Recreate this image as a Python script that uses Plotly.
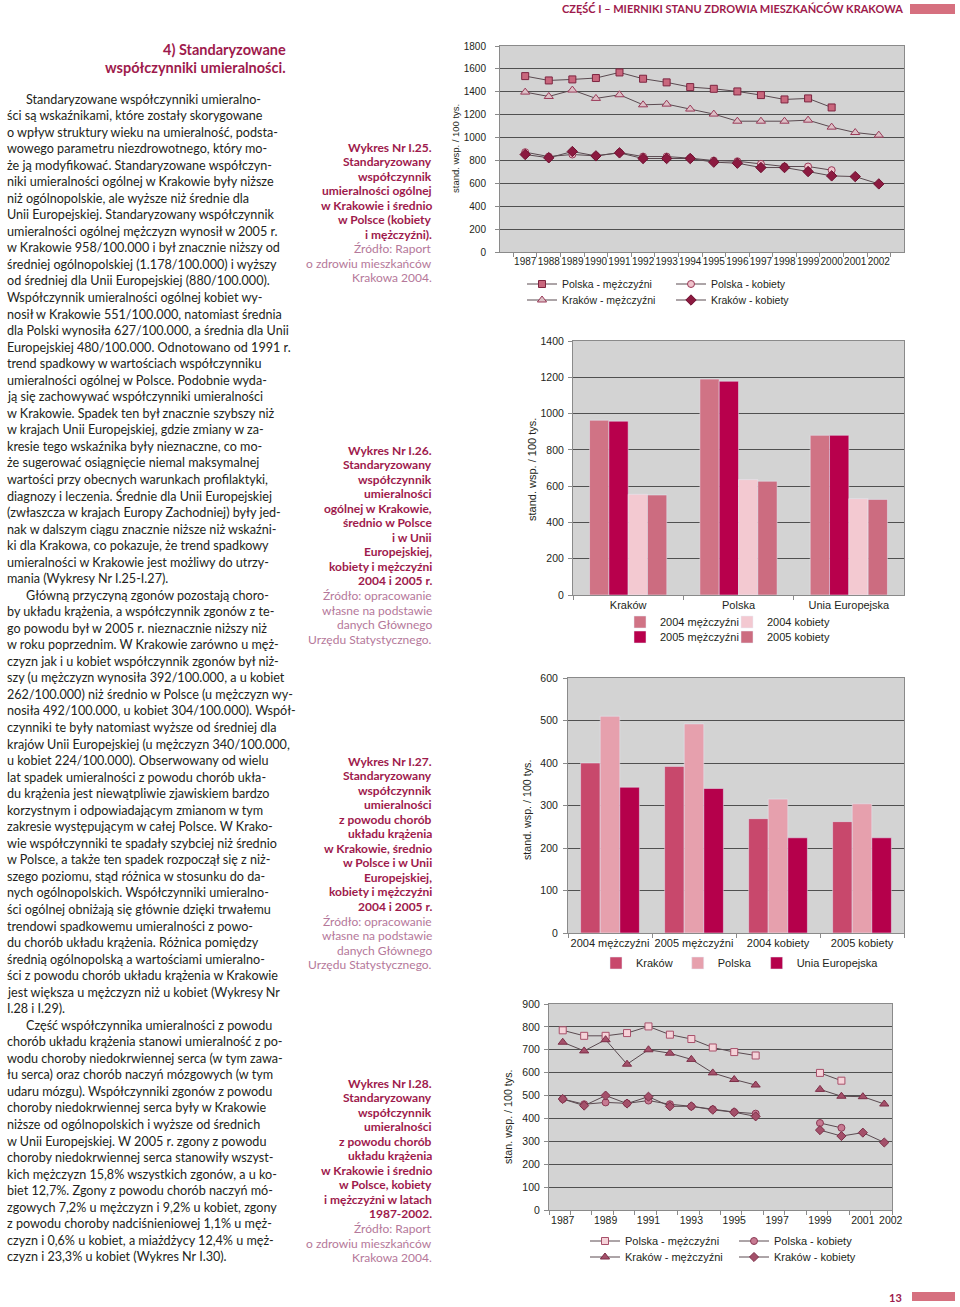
import plotly.graph_objects as go

W, H = 960, 1307
def X(px): return px / W
def Y(py): return 1 - py / H

# ---------------- DATA ----------------
years1 = [str(y) for y in range(1987, 2003)]
pl_m_1 = [1537, 1499, 1508, 1520, 1569, 1514, 1482, 1441, 1426, 1403, 1371, 1333, 1342, 1263, None, None]
kr_m_1 = [1397, 1359, 1415, 1342, 1374, 1286, 1292, 1249, 1205, 1143, 1143, 1143, 1152, 1091, 1044, 1021]
pl_k_1 = [872, 834, 852, 840, 869, 834, 834, 820, 799, 793, 770, 747, 747, 715, None, None]
kr_k_1 = [852, 823, 878, 840, 866, 817, 817, 817, 785, 776, 738, 738, 703, 665, 659, 595]

regions2 = ["Kraków", "Polska", "Unia Europejska"]
m2004 = [963, 1190, 880]
m2005 = [958, 1178, 880]
k2004 = [555, 636, 531]
k2005 = [551, 627, 527]

groups3 = ["2004 mężczyźni", "2005 mężczyźni", "2004 kobiety", "2005 kobiety"]
krakow3 = [400, 392, 269, 262]
polska3 = [510, 492, 315, 304]
ue3 = [343, 340, 224, 224]

years4 = list(range(1987, 2003))
ticks4 = [1987, 1989, 1991, 1993, 1995, 1997, 1999, 2001, 2002]
ticklabels4 = [str(t) for t in ticks4]
pl_m_4 = [785, 761, 761, 773, 802, 766, 747, 710, 690, 675, None, None, 599, 565, None, None]
kr_m_4 = [733, 695, 744, 637, 700, 685, 658, 599, 570, 546, None, None, 527, 497, 495, 463]
pl_k_4 = [485, 462, 470, 466, 478, 462, 453, 440, 428, 421, None, None, 380, 359, None, None]
kr_k_4 = [485, 456, 500, 465, 495, 453, 453, 438, 427, 409, None, None, 349, 323, 338, 295]

header = "CZĘŚĆ I – MIERNIKI STANU ZDROWIA MIESZKAŃCÓW KRAKOWA"
title_lines = ["4) Standaryzowane", "współczynniki umieralności."]

body_lines = [
    "Standaryzowane współczynniki umieralno-",
    "ści są wskaźnikami, które zostały skorygowane",
    "o wpływ struktury wieku na umieralność, podsta-",
    "wowego parametru niezdrowotnego, który mo-",
    "że ją modyfikować. Standaryzowane współczyn-",
    "niki umieralności ogólnej w Krakowie były niższe",
    "niż ogólnopolskie, ale wyższe niż średnie dla",
    "Unii Europejskiej. Standaryzowany współczynnik",
    "umieralności ogólnej mężczyzn wynosił w 2005 r.",
    "w Krakowie 958/100.000 i był znacznie niższy od",
    "średniej ogólnopolskiej (1.178/100.000) i wyższy",
    "od średniej dla Unii Europejskiej (880/100.000).",
    "Współczynnik umieralności ogólnej kobiet wy-",
    "nosił w Krakowie 551/100.000, natomiast średnia",
    "dla Polski wynosiła 627/100.000, a średnia dla Unii",
    "Europejskiej 480/100.000. Odnotowano od 1991 r.",
    "trend spadkowy w wartościach współczynniku",
    "umieralności ogólnej w Polsce. Podobnie wyda-",
    "ją się zachowywać współczynniki umieralności",
    "w Krakowie. Spadek ten był znacznie szybszy niż",
    "w krajach Unii Europejskiej, gdzie zmiany w za-",
    "kresie tego wskaźnika były nieznaczne, co mo-",
    "że sugerować osiągnięcie niemal maksymalnej",
    "wartości przy obecnych warunkach profilaktyki,",
    "diagnozy i leczenia. Średnie dla Unii Europejskiej",
    "(zwłaszcza w krajach Europy Zachodniej) były jed-",
    "nak w dalszym ciągu znacznie niższe niż wskaźni-",
    "ki dla Krakowa, co pokazuje, że trend spadkowy",
    "umieralności w Krakowie jest możliwy do utrzy-",
    "mania (Wykresy Nr I.25-I.27).",
    "Główną przyczyną zgonów pozostają choro-",
    "by układu krążenia, a współczynnik zgonów z te-",
    "go powodu był w 2005 r. nieznacznie niższy niż",
    "w roku poprzednim. W Krakowie zarówno u męż-",
    "czyzn jak i u kobiet współczynnik zgonów był niż-",
    "szy (u mężczyzn wynosiła 392/100.000, a u kobiet",
    "262/100.000) niż średnio w Polsce (u mężczyzn wy-",
    "nosiła 492/100.000, u kobiet 304/100.000). Współ-",
    "czynniki te były natomiast wyższe od średniej dla",
    "krajów Unii Europejskiej (u mężczyzn 340/100.000,",
    "u kobiet 224/100.000). Obserwowany od wielu",
    "lat spadek umieralności z powodu chorób ukła-",
    "du krążenia jest niewątpliwie zjawiskiem bardzo",
    "korzystnym i odpowiadającym zmianom w tym",
    "zakresie występującym w całej Polsce. W Krako-",
    "wie współczynniki te spadały szybciej niż średnio",
    "w Polsce, a także ten spadek rozpoczął się z niż-",
    "szego poziomu, stąd różnica w stosunku do da-",
    "nych ogólnopolskich. Współczynniki umieralno-",
    "ści ogólnej obniżają się głównie dzięki trwałemu",
    "trendowi spadkowemu umieralności z powo-",
    "du chorób układu krążenia. Różnica pomiędzy",
    "średnią ogólnopolską a wartościami umieralno-",
    "ści z powodu chorób układu krążenia w Krakowie",
    "jest większa u mężczyzn niż u kobiet (Wykresy Nr",
    "I.28 i I.29).",
    "Część współczynnika umieralności z powodu",
    "chorób układu krążenia stanowi umieralność z po-",
    "wodu choroby niedokrwiennej serca (w tym zawa-",
    "łu serca) oraz chorób naczyń mózgowych (w tym",
    "udaru mózgu). Współczynniki zgonów z powodu",
    "choroby niedokrwiennej serca były w Krakowie",
    "niższe od ogólnopolskich i wyższe od średnich",
    "w Unii Europejskiej. W 2005 r. zgony z powodu",
    "choroby niedokrwiennej serca stanowiły wszyst-",
    "kich mężczyzn 15,8% wszystkich zgonów, a u ko-",
    "biet 12,7%. Zgony z powodu chorób naczyń mó-",
    "zgowych 7,2% u mężczyzn i 9,2% u kobiet, zgony",
    "z powodu choroby nadciśnieniowej 1,1% u męż-",
    "czyzn i 0,6% u kobiet, a miażdżycy 12,4% u męż-",
    "czyzn i 23,3% u kobiet (Wykres Nr I.30).",
]
paragraph_starts = [0, 30, 56]

captions = [
    (147, ["Wykres Nr I.25.", "Standaryzowany", "współczynnik", "umieralności ogólnej",
           "w Krakowie i średnio", "w Polsce (kobiety", "i mężczyźni)."],
     ["Źródło: Raport", "o zdrowiu mieszkańców", "Krakowa 2004."]),
    (450, ["Wykres Nr I.26.", "Standaryzowany", "współczynnik", "umieralności",
           "ogólnej w Krakowie,", "średnio w Polsce", "i w Unii", "Europejskiej,",
           "kobiety i mężczyźni", "2004 i 2005 r."],
     ["Źródło: opracowanie", "własne na podstawie", "danych Głównego", "Urzędu Statystycznego."]),
    (761, ["Wykres Nr I.27.", "Standaryzowany", "współczynnik", "umieralności",
           "z powodu chorób", "układu krążenia", "w Krakowie, średnio", "w Polsce i w Unii",
           "Europejskiej,", "kobiety i mężczyźni", "2004 i 2005 r."],
     ["Źródło: opracowanie", "własne na podstawie", "danych Głównego", "Urzędu Statystycznego."]),
    (1083, ["Wykres Nr I.28.", "Standaryzowany", "współczynnik", "umieralności",
            "z powodu chorób", "układu krążenia", "w Krakowie i średnio", "w Polsce, kobiety",
            "i mężczyźni w latach", "1987-2002."],
     ["Źródło: Raport", "o zdrowiu mieszkańców", "Krakowa 2004."]),
]

# ---------------- STYLE ----------------
CRIMSON = "#9e1a4c"
SOURCE = "#b5789a"
TEXT = "#231f20"
LINE = "#5a4a50"
GRID = "#505050"
AXIS = "#8a8a8a"
CHART_FONT = "Liberation Sans, Arial, sans-serif"
BODY_FONT = "Lato, Liberation Sans, sans-serif"
NARROW = "Liberation Sans Narrow, Arial Narrow, Lato, sans-serif"

fig = go.Figure()

def line_trace(x, y, name, ax, marker, legend):
    return go.Scatter(x=x, y=y, name=name, mode="lines+markers",
                      xaxis="x" + ax, yaxis="y" + ax, legend=legend,
                      line=dict(color=LINE, width=1), marker=marker)

# ---------- Chart 1 ----------
fig.add_trace(line_trace(years1, pl_m_1, "Polska - mężczyźni", "",
    dict(symbol="square", size=7, color="#c9677d", line=dict(color="#7d2540", width=1)), "legend"))
fig.add_trace(line_trace(years1, pl_k_1, "Polska - kobiety", "",
    dict(symbol="circle", size=7, color="#efc3cc", line=dict(color="#9a3a58", width=1)), "legend"))
fig.add_trace(line_trace(years1, kr_m_1, "Kraków - mężczyźni", "",
    dict(symbol="triangle-up", size=8, color="#dcc0c6", line=dict(color="#9a3a58", width=1)), "legend2"))
fig.add_trace(line_trace(years1, kr_k_1, "Kraków - kobiety", "",
    dict(symbol="diamond", size=8, color="#8c1a40", line=dict(color="#6e1030", width=1)), "legend2"))

# ---------- Chart 2 ----------
for vals, name, color, lg in [(m2004, "2004 mężczyźni", "#d07385", "legend3"),
                              (m2005, "2005 mężczyźni", "#b8004c", "legend4"),
                              (k2004, "2004 kobiety", "#f3c9d1", "legend3"),
                              (k2005, "2005 kobiety", "#cc6c80", "legend4")]:
    fig.add_trace(go.Bar(x=regions2, y=vals, name=name, marker=dict(color=color),
                         xaxis="x2", yaxis="y2", legend=lg))

# ---------- Chart 3 ----------
for vals, name, color in [(krakow3, "Kraków", "#c8486c"),
                          (polska3, "Polska", "#e6a0ad"),
                          (ue3, "Unia Europejska", "#b5004b")]:
    fig.add_trace(go.Bar(x=groups3, y=vals, name=name, marker=dict(color=color),
                         xaxis="x3", yaxis="y3", legend="legend5"))

# ---------- Chart 4 ----------
fig.add_trace(line_trace(years4, pl_m_4, "Polska - mężczyźni", "4",
    dict(symbol="square", size=7, color="#f5d3d9", line=dict(color="#a8506a", width=1)), "legend6"))
fig.add_trace(line_trace(years4, pl_k_4, "Polska - kobiety", "4",
    dict(symbol="circle", size=7, color="#c77a92", line=dict(color="#8b3a55", width=1)), "legend6"))
fig.add_trace(line_trace(years4, kr_m_4, "Kraków - mężczyźni", "4",
    dict(symbol="triangle-up", size=8, color="#a4506a", line=dict(color="#7d2f48", width=1)), "legend7"))
fig.add_trace(line_trace(years4, kr_k_4, "Kraków - kobiety", "4",
    dict(symbol="diamond", size=7, color="#a4506a", line=dict(color="#7d2f48", width=1)), "legend7"))

# ---------- Axes ----------
tickfont = dict(family=CHART_FONT, size=10, color=TEXT)
tickfont2 = dict(family=CHART_FONT, size=10.5, color=TEXT)
catfont = dict(family=CHART_FONT, size=11, color=TEXT)

def yax(domain, rng, dtick, anchor, font, standoff):
    return dict(domain=domain, range=rng, dtick=dtick, anchor=anchor, showgrid=True,
                gridcolor=GRID, gridwidth=1, showline=True, linecolor=AXIS, mirror=True,
                ticks="outside", ticklen=4, tickcolor=AXIS, tickfont=font, zeroline=False,
                ticklabelstandoff=standoff, fixedrange=True, automargin=False)

def xax(domain, anchor, font, **kw):
    d = dict(domain=domain, anchor=anchor, showgrid=False, showline=True, linecolor=AXIS,
             mirror=True, ticks="outside", ticklen=4, tickcolor=AXIS, tickfont=font,
             zeroline=False, fixedrange=True, tickangle=0, automargin=False)
    d.update(kw)
    return d

# the reference prints the last year label slightly right of its point, next to "2001"
tickpos4 = [t + (0.3 if t == 2002 else 0) for t in ticks4]

layout = dict(
    width=W, height=H, margin=dict(l=0, r=0, t=0, b=0, autoexpand=False),
    paper_bgcolor="white", plot_bgcolor="#d3d3d3",
    barmode="group", bargap=0.3, bargroupgap=0,
    font=dict(family=CHART_FONT, size=10, color=TEXT),
    showlegend=True,
    xaxis=xax([X(500), X(904)], "y", tickfont, type="category", tickson="boundaries"),
    yaxis=yax([Y(252), Y(46)], [0, 1800], 200, "x", tickfont, 7),
    xaxis2=xax([X(573), X(904)], "y2", catfont, type="category", tickson="boundaries"),
    yaxis2=yax([Y(595), Y(341)], [0, 1400], 200, "x2", tickfont2, 2),
    xaxis3=xax([X(568), X(904)], "y3", catfont, type="category", tickson="boundaries"),
    yaxis3=yax([Y(933), Y(678)], [0, 600], 100, "x3", tickfont2, 3),
    xaxis4=xax([X(549), X(892)], "y4", dict(family=CHART_FONT, size=10.5, color=TEXT),
               range=[1986.36, 2002.36], tickvals=tickpos4, ticktext=ticklabels4, ticks="",
               minor=dict(ticks="outside", dtick=1, tick0=1986.36, ticklen=4, tickcolor=AXIS)),
    yaxis4=yax([Y(1210), Y(1004)], [0, 900], 100, "x4", tickfont2, 2),
)

def lg(x, y, ew, size=10.5):
    d = dict(orientation="h", x=X(x), y=Y(y), xanchor="left", yanchor="middle",
             bgcolor="rgba(0,0,0,0)", font=dict(family=CHART_FONT, size=size, color=TEXT),
             itemclick=False, itemdoubleclick=False)
    if ew:
        d.update(entrywidth=ew, entrywidthmode="pixels")
    return d

layout["legend"] = lg(522, 284, 104)
layout["legend2"] = lg(522, 300, 104)
layout["legend3"] = lg(620, 622, 62, 11)
layout["legend4"] = lg(620, 637, 62, 11)
layout["legend5"] = lg(596, 963, 0, 11)
layout["legend6"] = lg(585, 1241, 104, 11)
layout["legend7"] = lg(585, 1257, 104, 11)

fig.update_layout(**layout)

ann = []
for x, y, t, s in [(455, 149, "stand. wsp. / 100 tys.", 9.5),
                   (532, 470, "stand. wsp. / 100 tys.", 11),
                   (527, 810, "stand. wsp. / 100 tys.", 10.7),
                   (508, 1117, "stan. wsp. / 100 tys.", 10.7)]:
    ann.append(dict(x=X(x), y=Y(y), xref="paper", yref="paper", text=t, textangle=-90,
                    showarrow=False, xanchor="center", yanchor="middle",
                    font=dict(family=CHART_FONT, size=s, color=TEXT)))

ann.append(dict(x=X(905), y=Y(9), xref="paper", yref="paper", text=header, showarrow=False,
                xanchor="right", yanchor="middle",
                font=dict(family=NARROW, size=11, color=CRIMSON, weight="bold")))
ann.append(dict(x=X(904), y=Y(1297), xref="paper", yref="paper", text="13", showarrow=False,
                xanchor="right", yanchor="middle",
                font=dict(family=BODY_FONT, size=11, color=CRIMSON, weight="bold")))
for i, t in enumerate(title_lines):
    ann.append(dict(x=X(288), y=Y(49 + 19 * i), xref="paper", yref="paper", text=t,
                    showarrow=False, xanchor="right", yanchor="middle",
                    font=dict(family=NARROW, size=14.5, color=CRIMSON, weight="bold")))
for i, t in enumerate(body_lines):
    x0 = 24 if i in paragraph_starts else 5
    ann.append(dict(x=X(x0), y=Y(99 + 16.54 * i), xref="paper", yref="paper", text=t,
                    showarrow=False, xanchor="left", yanchor="middle",
                    font=dict(family=BODY_FONT, size=12.6, color=TEXT)))
for y0, bold, src in captions:
    for j, t in enumerate(bold + src):
        is_bold = j < len(bold)
        ann.append(dict(x=X(434), y=Y(y0 + 14.55 * j), xref="paper", yref="paper", text=t,
                        showarrow=False, xanchor="right", yanchor="middle",
                        font=dict(family=BODY_FONT, size=12, color=CRIMSON if is_bold else SOURCE,
                                  weight="bold" if is_bold else "normal")))

fig.update_layout(annotations=ann)

fig.update_layout(shapes=[
    dict(type="rect", xref="paper", yref="paper", x0=X(910), x1=X(955), y0=Y(14), y1=Y(4),
         fillcolor="#d6707f", line=dict(width=0)),
    dict(type="rect", xref="paper", yref="paper", x0=X(912), x1=X(955), y0=Y(1301), y1=Y(1292),
         fillcolor="#d6707f", line=dict(width=0)),
])

fig.write_html("out.html", config={"displayModeBar": False},
               post_script="document.body.style.margin='0px';document.body.style.padding='0px';")
